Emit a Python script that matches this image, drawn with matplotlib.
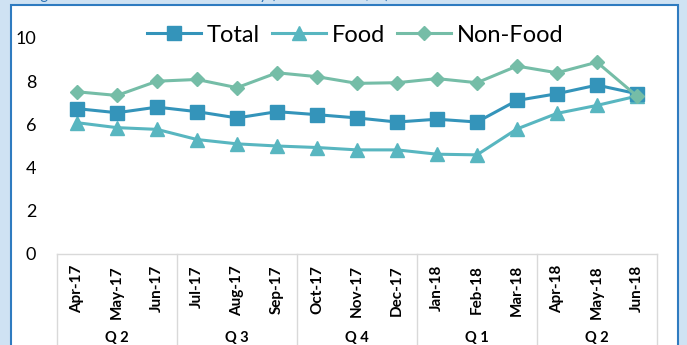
import matplotlib
matplotlib.use("Agg")
import matplotlib.pyplot as plt
from matplotlib.patches import Rectangle
import matplotlib.transforms as mtransforms

plt.rcParams['font.family'] = ['Lato', 'DejaVu Sans']

# data
months = ['Apr-17', 'May-17', 'Jun-17', 'Jul-17', 'Aug-17', 'Sep-17', 'Oct-17',
          'Nov-17', 'Dec-17', 'Jan-18', 'Feb-18', 'Mar-18', 'Apr-18', 'May-18', 'Jun-18']
quarters = ['Q 2', 'Q 3', 'Q 4', 'Q 1', 'Q 2']
total = [6.73, 6.54, 6.80, 6.59, 6.30, 6.59, 6.45, 6.30, 6.11, 6.24, 6.11, 7.11, 7.42, 7.82, 7.42]
food = [6.08, 5.85, 5.77, 5.30, 5.10, 5.00, 4.93, 4.82, 4.82, 4.62, 4.59, 5.79, 6.51, 6.88, 7.31]
non_food = [7.51, 7.34, 8.00, 8.08, 7.70, 8.39, 8.21, 7.90, 7.93, 8.12, 7.93, 8.70, 8.39, 8.88, 7.31]

W, H = 687, 345
fig = plt.figure(figsize=(W / 100, H / 100), dpi=100)
fig.patch.set_facecolor('#cfe2f3')

# white panel with blue border
panel = Rectangle((11 / W, -0.1), (678 - 11) / W, 1.1 - 5 / H, transform=fig.transFigure,
                  facecolor='white', edgecolor='#2f7bc0', linewidth=1.5, zorder=-10)
fig.patches.append(panel)

# title cut off at the top of the crop (only descenders show, as in the reference)
fig.text(28 / W, 1 + 1 / H, 'Figure 3: Inflation Trends - Monthly (Year-on-Year, %)',
         color='#2e74b5', fontsize=11, va='baseline', ha='left', zorder=-5)

ax = fig.add_axes([57 / W, 91 / H, 600 / W, 216 / H])
ax.set_facecolor('none')

x = list(range(len(months)))
ax.plot(x, total, color='#3494BA', lw=2.2, marker='s', ms=10.5, mec='#3494BA', label='Total', zorder=3)
ax.plot(x, food, color='#58B6C0', lw=2.2, marker='^', ms=10, mec='#58B6C0', label='Food', zorder=2)
ax.plot(x, non_food, color='#75BDA7', lw=2.2, marker='D', ms=7.5, mec='#75BDA7', label='Non-Food', zorder=4)

ax.set_xlim(-0.5, len(months) - 0.5)
ax.set_ylim(0, 10)
ax.set_yticks([0, 2, 4, 6, 8, 10])
ax.tick_params(axis='y', length=0, pad=15, labelsize=13)
ax.set_xticks(x)
ax.set_xticklabels(months, rotation=90, fontsize=11, fontweight='bold', va='top')
ax.tick_params(axis='x', length=0, pad=8)

for s in ['left', 'right', 'top']:
    ax.spines[s].set_visible(False)
ax.spines['bottom'].set_color('#d9d9d9')
ax.spines['bottom'].set_linewidth(1)

# multi-level category separators and quarter labels
trans = mtransforms.blended_transform_factory(ax.transData, ax.transAxes)
for b in [-0.5, 2.5, 5.5, 8.5, 11.5, 14.5]:
    ax.plot([b, b], [0, -0.6], color='#d9d9d9', lw=1, transform=trans, clip_on=False)
for i, q in enumerate(quarters):
    ax.text(i * 3 + 1, -(338 - 254) / 216, q, transform=trans, ha='center', va='center',
            fontsize=10.5, fontweight='bold')

ax.legend(loc='center', bbox_to_anchor=(0.497, 1 + 3 / 216), ncol=3, frameon=False,
          fontsize=17, handlelength=2.3, handletextpad=0.25, columnspacing=0.5,
          borderaxespad=0)

fig.savefig('out.png', dpi=100, facecolor=fig.get_facecolor())
